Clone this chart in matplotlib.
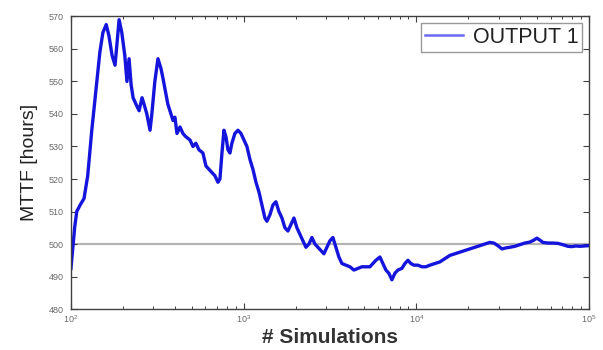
import matplotlib
matplotlib.use("Agg")
import matplotlib.pyplot as plt
from matplotlib.lines import Line2D
from matplotlib.ticker import LogLocator, FixedLocator, NullFormatter

plt.rcParams['font.family'] = ['Liberation Sans', 'DejaVu Sans']

# Number of Monte Carlo simulations and running MTTF estimate
simulations = [
    100, 103, 105, 108, 113, 119, 125, 132, 140, 147, 153, 160, 166, 173, 180,
    185, 190, 197, 205, 211, 217, 223, 229, 238, 248, 258, 265, 275, 287, 294,
    306, 319, 332, 341, 355, 364, 374, 390, 400, 411, 428, 445, 463, 489, 509,
    529, 551, 581, 605, 630, 655, 682, 710, 729, 749, 769, 790, 811, 833, 855,
    890, 927, 965, 1004, 1045, 1088, 1132, 1179, 1227, 1276, 1328, 1364, 1420,
    1478, 1538, 1601, 1667, 1734, 1805, 1879, 1956, 2035, 2118, 2205, 2295,
    2388, 2486, 2588, 2693, 2803, 2917, 3036, 3160, 3289, 3423, 3563, 3709,
    3912, 4126, 4352, 4590, 4842, 5107, 5387, 5607, 5835, 6155, 6406, 6668,
    6939, 7222, 7517, 7824, 8253, 8590, 8942, 9306, 9685, 10216, 10776, 11367,
    11990, 12815, 13697, 14640, 15648, 16726, 17877, 19108, 20424, 21830,
    23333, 24940, 26657, 28129, 29681, 31320, 33023, 34834, 37232, 39804,
    42546, 45478, 47973, 49937, 51972, 54093, 57810, 61802, 66069, 70632,
    75467, 79616, 83986, 88575, 94693, 100000,
]
mttf_hours = [
    492.5, 500, 505, 510, 512, 514, 521, 535, 548, 559, 565, 567.5, 564, 558,
    555, 562, 569, 565, 558, 550, 557, 549, 545, 543, 541, 545, 543, 540, 535,
    540, 550, 557, 554, 551, 546, 543, 541, 538, 539, 534, 536, 534, 533, 532,
    530, 531, 529, 528, 524, 523, 522, 521, 519, 520, 528, 535, 533, 529, 528,
    531, 534, 535, 534, 532, 530, 526, 523, 519, 516, 512, 508, 507, 509, 512,
    513, 510, 508, 505, 504, 506, 508, 505, 503, 501, 499, 500, 502, 500, 499,
    498, 497, 499, 501, 502, 499, 496, 494, 493.5, 493, 492, 492.5, 493, 493,
    493, 494, 495, 496, 494, 492, 491, 489, 491, 492, 492.5, 494, 495, 494,
    493.5, 493.5, 493, 493, 493.5, 494, 494.5, 495.5, 496.5, 497, 497.5, 498,
    498.5, 499, 499.5, 500, 500.5, 500.3, 499.5, 498.5, 498.8, 499, 499.3,
    499.8, 500.3, 500.6, 501.2, 501.8, 501.2, 500.5, 500.3, 500.3, 500.2, 499.8,
    499.3, 499.2, 499.4, 499.3, 499.4, 499.5,
]
reference_mttf = 500
series_label = "OUTPUT 1"
y_ticks = [480, 490, 500, 510, 520, 530, 540, 550, 560, 570]
x_ticks = [1e2, 1e3, 1e4, 1e5]

fig = plt.figure(figsize=(6.03, 3.5), dpi=100)
ax = fig.add_axes([0.1177, 0.117, 0.8590, 0.836])

line_color = '#1414dc'
ax.axhline(reference_mttf, color='#b4b4b4', lw=1.6, zorder=1)
ax.plot(simulations, mttf_hours, color=line_color, lw=2.4, zorder=2,
        solid_joinstyle='round')

ax.set_xscale('log')
ax.set_xlim(1e2, 1e5)
ax.set_ylim(480, 570)
ax.yaxis.set_major_locator(FixedLocator(y_ticks))
ax.xaxis.set_major_locator(FixedLocator(x_ticks))
ax.xaxis.set_minor_locator(LogLocator(base=10, subs=range(2, 10)))
ax.xaxis.set_minor_formatter(NullFormatter())

tick_gray = '#6a6a6a'
ax.tick_params(which='both', direction='in', top=True, right=True,
               colors='#404040', labelcolor=tick_gray, labelsize=6.5)
ax.tick_params(which='major', length=4, width=0.8)
ax.tick_params(which='minor', length=2.5, width=0.7)
ax.tick_params(axis='x', pad=3)
ax.tick_params(axis='y', pad=5)

for sp in ax.spines.values():
    sp.set_color('#404040')
    sp.set_linewidth(1.0)

ax.set_ylabel('MTTF [hours]', fontsize=14, color='#222222', labelpad=8)
ax.set_xlabel('# Simulations', fontsize=15, fontweight='bold',
              color='#333333', labelpad=2)

handle = Line2D([], [], color='#6a6af0', lw=1.8)
leg = ax.legend([handle], [series_label], loc='upper right', fontsize=15.5,
                frameon=True, fancybox=False, handlelength=1.8,
                handletextpad=0.45, borderpad=0.18, borderaxespad=0.3)
leg.get_frame().set_edgecolor('#808080')
leg.get_frame().set_linewidth(1.0)
for t in leg.get_texts():
    t.set_color('#222222')

fig.savefig('out.png', dpi=100)
